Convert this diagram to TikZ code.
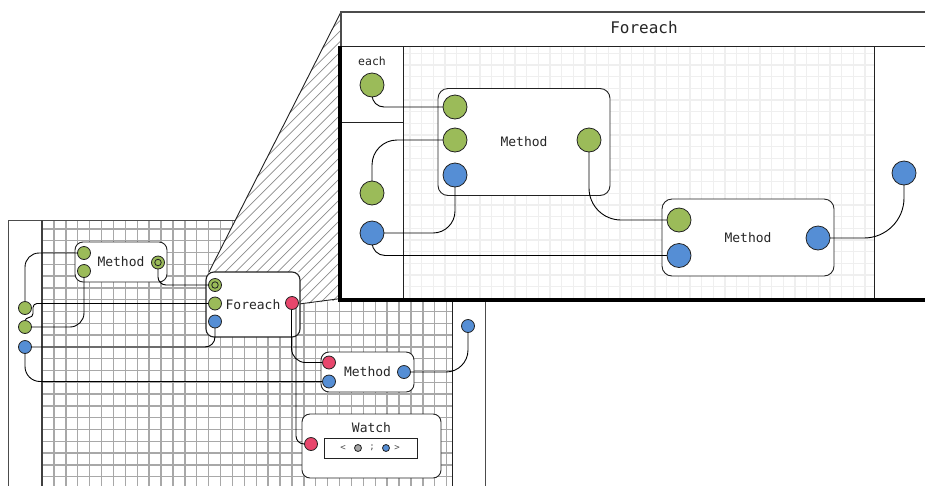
\documentclass[tikz,border=0pt]{standalone}
\usepackage{fontspec}
\setmonofont{DejaVu Sans Mono}
\definecolor{portgreen}{HTML}{9BBB59}
\definecolor{portblue}{HTML}{558ED5}
\definecolor{portred}{HTML}{E8466C}
\definecolor{gridgray}{HTML}{A8A8A8}
\definecolor{gridlight}{HTML}{EFEFEF}
\definecolor{ink}{HTML}{222222}
\tikzset{
  port/.style={circle, draw=ink, line width=0.8pt, inner sep=0pt, minimum size=13pt},
  gport/.style={port, fill=portgreen},
  bport/.style={port, fill=portblue},
  rport/.style={port, fill=portred},
  gbig/.style={port, minimum size=24pt, fill=portgreen},
  bbig/.style={port, minimum size=24pt, fill=portblue},
  ring/.style={circle, draw=ink, line width=0.8pt, inner sep=0pt, minimum size=6.5pt},
  block/.style={draw=ink, fill=white, line width=0.9pt, rounded corners=8pt, inner sep=0pt,
                font=\ttfamily\fontsize{13}{15}\selectfont, text=black!85},
  bigblock/.style={block, rounded corners=10pt},
  label/.style={inner sep=0pt, text=black!85},
  wire/.style={draw=black, line width=0.9pt},
  frame/.style={draw=ink, line width=1pt},
  hatchline/.style={draw=black!45, line width=0.7pt},
}
\begin{document}
\begin{tikzpicture}[x=1pt, y=-1pt]
\useasboundingbox (0,0) rectangle (925,485);
\clip (0,0) rectangle (925,485);

% ---------- outer canvas: input column, grid, output column ----------
\fill[white] (8,220) rectangle (485,490);
\begin{scope}
  \clip (42,220) rectangle (452,490);
  \foreach \k in {0,...,35} \draw[gridgray, line width=1.4pt] (42+\k*11.9,210) -- (42+\k*11.9,490);
  \foreach \k in {0,...,24} \draw[gridgray, line width=1.4pt] (30,217.0+\k*11.8) -- (460,217.0+\k*11.8);
\end{scope}
\draw[frame, draw=black!70] (8,490) -- (8,220) -- (485,220) -- (485,490);
\draw[frame, draw=black!75, line width=1.5pt] (42,220) -- (42,490);
\draw[frame] (452,220) -- (452,490);

% ---------- zoom projection (hatched) ----------
\begin{scope}
  \clip (209,272) -- (341,12) -- (341,300) -- (299,304.5) -- (299,272) -- cycle;
  \fill[white] (200,0) rectangle (345,310);
  \foreach \k in {0,...,34} \draw[hatchline] (30+\k*10.5,320) -- ++(330,-330);
\end{scope}
\draw[ink, line width=0.9pt] (209,272) -- (341,12);
\draw[ink, line width=0.9pt] (299,304) -- (341,298.5);

% ---------- expanded Foreach panel ----------
\fill[white] (341,12) rectangle (930,300);
\begin{scope}
  \clip (403,46) rectangle (874,298);
  \foreach \k in {-1,...,40} \draw[gridlight, line width=1.3pt] (410+\k*11.67,40) -- (410+\k*11.67,300);
  \foreach \k in {-1,...,22} \draw[gridlight, line width=1.3pt] (400,53.3+\k*11.67) -- (880,53.3+\k*11.67);
\end{scope}
\draw[draw=black!70, line width=1.2pt] (930,12) -- (341,12) -- (341,46);
\draw[frame] (341,46) -- (930,46);
\draw[frame] (403,46) -- (403,298);
\draw[frame] (341,122) -- (403,122);
\draw[frame] (874,46) -- (874,298);
\draw[black, line width=4pt] (340.3,46) -- (340.3,300) -- (930,300);
\node[label, font=\ttfamily\fontsize{16}{18}\selectfont] (ptitle) at (644,28) {Foreach};
\node[label, font=\ttfamily\fontsize{11.5}{13}\selectfont] (peach) at (372,61) {each};

% panel blocks
\node[bigblock, minimum width=172pt, minimum height=107pt] (pm1) at (524,142) {Method};
\node[bigblock, minimum width=172pt, minimum height=77pt] (pm2) at (748,237.5) {Method};

% panel port positions
\coordinate (each) at (372,85);
\coordinate (pg) at (372,193);
\coordinate (pb) at (372,233);
\coordinate (pm1-in1) at (455,107);
\coordinate (pm1-in2) at (455,140);
\coordinate (pm1-in3) at (455,175);
\coordinate (pm1-out) at (589,140);
\coordinate (pm2-in1) at (679,220);
\coordinate (pm2-in2) at (679,255.5);
\coordinate (pm2-out) at (818,238);
\coordinate (pr) at (904,173);

% panel wires
\draw[wire, rounded corners=12pt] (each) |- (pm1-in1);
\draw[wire, rounded corners=25pt] (pg) |- (pm1-in2);
\draw[wire, rounded corners=22pt] (pm1-in3) |- (pb);
\draw[wire, rounded corners=13pt] (pb) |- (pm2-in2);
\draw[wire, rounded corners=32pt] (pm1-out) |- (pm2-in1);
\draw[wire, rounded corners=40pt] (pm2-out) -| (pr);

% panel port circles
\node[gbig] (each-c) at (each) {};
\node[gbig] (pg-c) at (pg) {};
\node[bbig] (pb-c) at (pb) {};
\node[gbig] (pm1-in1-c) at (pm1-in1) {};
\node[gbig] (pm1-in2-c) at (pm1-in2) {};
\node[bbig] (pm1-in3-c) at (pm1-in3) {};
\node[gbig] (pm1-out-c) at (pm1-out) {};
\node[gbig] (pm2-in1-c) at (pm2-in1) {};
\node[bbig] (pm2-in2-c) at (pm2-in2) {};
\node[bbig] (pm2-out-c) at (pm2-out) {};
\node[bbig] (pr-c) at (pr) {};

% ---------- small view blocks ----------
\node[block, minimum width=92pt, minimum height=40pt] (sm1) at (121,262) {Method};
\node[block, minimum width=94pt, minimum height=65pt, line width=1.1pt] (sf) at (253,304.5) {Foreach};
\node[block, minimum width=93pt, minimum height=40pt] (sm2) at (367.5,372) {Method};
\node[block, minimum width=139pt, minimum height=64pt] (sw) at (371.5,446) {};
\node[label, font=\ttfamily\fontsize{13}{15}\selectfont] (swtitle) at (371.5,428) {Watch};
\node[draw=ink, line width=0.9pt, fill=white, minimum width=93pt, minimum height=20pt, inner sep=0pt] (swval) at (370.5,448) {};
\node[label, text=black!70, font=\ttfamily\fontsize{9}{10}\selectfont] (swl) at (343,448) {<};
\node[label, text=black!70, font=\ttfamily\fontsize{9}{10}\selectfont] (sws) at (372,448) {;};
\node[label, text=black!70, font=\ttfamily\fontsize{9}{10}\selectfont] (swr) at (397,448) {>};
\node[port, minimum size=7pt, fill=black!35] (swa) at (358,448) {};
\node[port, minimum size=7pt, fill=portblue] (swb) at (386,448) {};

% small view port positions
\coordinate (p-g1) at (25,308);
\coordinate (p-g2) at (25,327);
\coordinate (p-b) at (25,347);
\coordinate (p-rb) at (468,326);
\coordinate (sm1-in1) at (84,253);
\coordinate (sm1-in2) at (84,271);
\coordinate (sm1-out) at (158,262.5);
\coordinate (sf-in1) at (215,285);
\coordinate (sf-in2) at (215,303.5);
\coordinate (sf-in3) at (215,321.5);
\coordinate (sf-out) at (292,303);
\coordinate (sm2-in1) at (329,362.5);
\coordinate (sm2-in2) at (329,381.5);
\coordinate (sm2-out) at (404,372);
\coordinate (sw-in) at (311,444);

% small view wires
\draw[wire, rounded corners=14pt] (p-g1) |- (sm1-in1);
\draw[wire, rounded corners=14pt] (sm1-in2) |- (p-g2);
\draw[wire, rounded corners=8pt] (sm1-out) |- (sf-in1);
\draw[wire, rounded corners=4pt] (p-g2) -- ++(0,-9.5) -- ++(8,0) |- (sf-in2);
\draw[wire, rounded corners=10pt] (p-b) -| (sf-in3);
\draw[wire, rounded corners=15pt] (p-b) |- (sm2-in2);
\draw[wire, rounded corners=14pt] ([xshift=-0.5pt]sf-out) |- (sm2-in1);
\draw[wire, rounded corners=8pt] ([xshift=4pt]sf-out) |- (sw-in);
\draw[wire, rounded corners=22pt] (sm2-out) -| (p-rb);

% small view port circles
\node[gport] (p-g1-c) at (p-g1) {};
\node[gport] (p-g2-c) at (p-g2) {};
\node[bport] (p-b-c) at (p-b) {};
\node[bport] (p-rb-c) at (p-rb) {};
\node[gport] (sm1-in1-c) at (sm1-in1) {};
\node[gport] (sm1-in2-c) at (sm1-in2) {};
\node[gport] (sm1-out-c) at (sm1-out) {};
\node[ring] (sm1-out-r) at (sm1-out) {};
\node[gport] (sf-in1-c) at (sf-in1) {};
\node[ring] (sf-in1-r) at (sf-in1) {};
\node[gport] (sf-in2-c) at (sf-in2) {};
\node[bport] (sf-in3-c) at (sf-in3) {};
\node[rport] (sf-out-c) at (sf-out) {};
\node[rport] (sm2-in1-c) at (sm2-in1) {};
\node[bport] (sm2-in2-c) at (sm2-in2) {};
\node[bport] (sm2-out-c) at (sm2-out) {};
\node[rport] (sw-in-c) at (sw-in) {};
\end{tikzpicture}
\end{document}
